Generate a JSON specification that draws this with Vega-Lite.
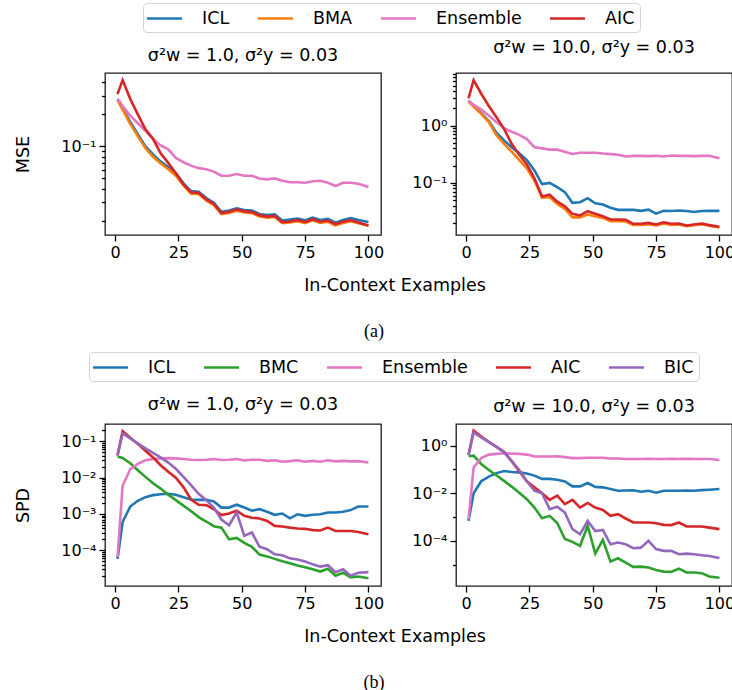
{
"$schema": "https://vega.github.io/schema/vega-lite/v6.json",
"background": "white",
"padding": {"left": 13, "top": 2, "right": 0, "bottom": 0},
"config": {
  "font": "DejaVu Sans",
  "view": {"stroke": "#1a1a1a", "strokeWidth": 1.3},
  "axis": {"grid": false, "domain": false, "labelFont": "DejaVu Sans", "labelFontSize": 16, "labelColor": "#000", "tickColor": "#000", "tickWidth": 1.3, "tickSize": 6, "labelPadding": 3, "titleFont": "DejaVu Sans", "titleFontSize": 17.5, "titleFontWeight": "normal", "titleColor": "#000", "labelFlush": false, "labelOverlap": false},
  "legend": {"direction": "horizontal", "title": null, "symbolType": "M-2,0H2", "symbolSize": 306.25, "symbolStrokeWidth": 2.6, "symbolOffset": 6, "labelOffset": 27, "labelFont": "DejaVu Sans", "labelFontSize": 17.5, "labelColor": "#000", "columnPadding": 22, "padding": 5, "strokeColor": "#d4d4d4", "cornerRadius": 4, "fillColor": "white", "labelLimit": 0}
},
"datasets": {
"a1": [
{"x":1,"m":"ICL","v":0.275},{"x":3,"m":"ICL","v":0.23},{"x":6,"m":"ICL","v":0.17},{"x":9,"m":"ICL","v":0.13},{"x":12,"m":"ICL","v":0.1},{"x":15,"m":"ICL","v":0.084},{"x":18,"m":"ICL","v":0.072},{"x":21,"m":"ICL","v":0.064},{"x":24,"m":"ICL","v":0.056},{"x":27,"m":"ICL","v":0.045},{"x":30,"m":"ICL","v":0.038},{"x":33,"m":"ICL","v":0.0375},{"x":36,"m":"ICL","v":0.0327},{"x":39,"m":"ICL","v":0.0296},{"x":42,"m":"ICL","v":0.0243},{"x":45,"m":"ICL","v":0.025},{"x":48,"m":"ICL","v":0.0262},{"x":51,"m":"ICL","v":0.0252},{"x":54,"m":"ICL","v":0.025},{"x":57,"m":"ICL","v":0.0232},{"x":60,"m":"ICL","v":0.0226},{"x":63,"m":"ICL","v":0.023},{"x":66,"m":"ICL","v":0.0201},{"x":69,"m":"ICL","v":0.0205},{"x":72,"m":"ICL","v":0.021},{"x":75,"m":"ICL","v":0.0202},{"x":78,"m":"ICL","v":0.0214},{"x":81,"m":"ICL","v":0.0203},{"x":84,"m":"ICL","v":0.0208},{"x":87,"m":"ICL","v":0.0192},{"x":90,"m":"ICL","v":0.0203},{"x":93,"m":"ICL","v":0.0212},{"x":96,"m":"ICL","v":0.0203},{"x":100,"m":"ICL","v":0.0195},
{"x":1,"m":"BMA","v":0.272},{"x":3,"m":"BMA","v":0.222},{"x":6,"m":"BMA","v":0.163},{"x":9,"m":"BMA","v":0.125},{"x":12,"m":"BMA","v":0.096},{"x":15,"m":"BMA","v":0.08},{"x":18,"m":"BMA","v":0.069},{"x":21,"m":"BMA","v":0.061},{"x":24,"m":"BMA","v":0.053},{"x":27,"m":"BMA","v":0.043},{"x":30,"m":"BMA","v":0.036},{"x":33,"m":"BMA","v":0.0357},{"x":36,"m":"BMA","v":0.031},{"x":39,"m":"BMA","v":0.028},{"x":42,"m":"BMA","v":0.0231},{"x":45,"m":"BMA","v":0.0237},{"x":48,"m":"BMA","v":0.0248},{"x":51,"m":"BMA","v":0.024},{"x":54,"m":"BMA","v":0.0236},{"x":57,"m":"BMA","v":0.022},{"x":60,"m":"BMA","v":0.0214},{"x":63,"m":"BMA","v":0.0217},{"x":66,"m":"BMA","v":0.019},{"x":69,"m":"BMA","v":0.0193},{"x":72,"m":"BMA","v":0.0198},{"x":75,"m":"BMA","v":0.019},{"x":78,"m":"BMA","v":0.0202},{"x":81,"m":"BMA","v":0.0191},{"x":84,"m":"BMA","v":0.0196},{"x":87,"m":"BMA","v":0.0181},{"x":90,"m":"BMA","v":0.0191},{"x":93,"m":"BMA","v":0.0198},{"x":96,"m":"BMA","v":0.019},{"x":100,"m":"BMA","v":0.018},
{"x":1,"m":"Ensemble","v":0.28},{"x":3,"m":"Ensemble","v":0.24},{"x":6,"m":"Ensemble","v":0.195},{"x":9,"m":"Ensemble","v":0.165},{"x":12,"m":"Ensemble","v":0.14},{"x":15,"m":"Ensemble","v":0.117},{"x":18,"m":"Ensemble","v":0.102},{"x":21,"m":"Ensemble","v":0.094},{"x":24,"m":"Ensemble","v":0.078},{"x":27,"m":"Ensemble","v":0.071},{"x":30,"m":"Ensemble","v":0.066},{"x":33,"m":"Ensemble","v":0.0625},{"x":36,"m":"Ensemble","v":0.061},{"x":39,"m":"Ensemble","v":0.058},{"x":42,"m":"Ensemble","v":0.053},{"x":45,"m":"Ensemble","v":0.053},{"x":48,"m":"Ensemble","v":0.055},{"x":51,"m":"Ensemble","v":0.053},{"x":54,"m":"Ensemble","v":0.053},{"x":57,"m":"Ensemble","v":0.05},{"x":60,"m":"Ensemble","v":0.049},{"x":63,"m":"Ensemble","v":0.05},{"x":66,"m":"Ensemble","v":0.0475},{"x":69,"m":"Ensemble","v":0.046},{"x":72,"m":"Ensemble","v":0.046},{"x":75,"m":"Ensemble","v":0.0455},{"x":78,"m":"Ensemble","v":0.047},{"x":81,"m":"Ensemble","v":0.0475},{"x":84,"m":"Ensemble","v":0.0455},{"x":87,"m":"Ensemble","v":0.0424},{"x":90,"m":"Ensemble","v":0.0455},{"x":93,"m":"Ensemble","v":0.0455},{"x":96,"m":"Ensemble","v":0.0445},{"x":100,"m":"Ensemble","v":0.0415},
{"x":1,"m":"AIC","v":0.31},{"x":3,"m":"AIC","v":0.42},{"x":6,"m":"AIC","v":0.28},{"x":9,"m":"AIC","v":0.2},{"x":12,"m":"AIC","v":0.145},{"x":15,"m":"AIC","v":0.118},{"x":18,"m":"AIC","v":0.086},{"x":21,"m":"AIC","v":0.07},{"x":24,"m":"AIC","v":0.056},{"x":27,"m":"AIC","v":0.044},{"x":30,"m":"AIC","v":0.037},{"x":33,"m":"AIC","v":0.0366},{"x":36,"m":"AIC","v":0.0318},{"x":39,"m":"AIC","v":0.0288},{"x":42,"m":"AIC","v":0.0236},{"x":45,"m":"AIC","v":0.0243},{"x":48,"m":"AIC","v":0.0256},{"x":51,"m":"AIC","v":0.0246},{"x":54,"m":"AIC","v":0.0242},{"x":57,"m":"AIC","v":0.0226},{"x":60,"m":"AIC","v":0.0219},{"x":63,"m":"AIC","v":0.0222},{"x":66,"m":"AIC","v":0.0194},{"x":69,"m":"AIC","v":0.0197},{"x":72,"m":"AIC","v":0.0203},{"x":75,"m":"AIC","v":0.0195},{"x":78,"m":"AIC","v":0.0207},{"x":81,"m":"AIC","v":0.0196},{"x":84,"m":"AIC","v":0.0201},{"x":87,"m":"AIC","v":0.0186},{"x":90,"m":"AIC","v":0.0196},{"x":93,"m":"AIC","v":0.0203},{"x":96,"m":"AIC","v":0.0193},{"x":100,"m":"AIC","v":0.0181}
],
"a2": [
{"x":1,"m":"ICL","v":2.73},{"x":3,"m":"ICL","v":2.2},{"x":6,"m":"ICL","v":1.65},{"x":9,"m":"ICL","v":1.2},{"x":12,"m":"ICL","v":0.75},{"x":15,"m":"ICL","v":0.55},{"x":18,"m":"ICL","v":0.42},{"x":21,"m":"ICL","v":0.33},{"x":24,"m":"ICL","v":0.25},{"x":27,"m":"ICL","v":0.165},{"x":30,"m":"ICL","v":0.095},{"x":33,"m":"ICL","v":0.1},{"x":36,"m":"ICL","v":0.084},{"x":39,"m":"ICL","v":0.069},{"x":42,"m":"ICL","v":0.0448},{"x":45,"m":"ICL","v":0.046},{"x":48,"m":"ICL","v":0.054},{"x":51,"m":"ICL","v":0.044},{"x":54,"m":"ICL","v":0.042},{"x":57,"m":"ICL","v":0.0367},{"x":60,"m":"ICL","v":0.0338},{"x":63,"m":"ICL","v":0.0338},{"x":66,"m":"ICL","v":0.0338},{"x":69,"m":"ICL","v":0.0325},{"x":72,"m":"ICL","v":0.034},{"x":75,"m":"ICL","v":0.029},{"x":78,"m":"ICL","v":0.0325},{"x":81,"m":"ICL","v":0.0322},{"x":84,"m":"ICL","v":0.033},{"x":87,"m":"ICL","v":0.0322},{"x":90,"m":"ICL","v":0.031},{"x":93,"m":"ICL","v":0.0322},{"x":96,"m":"ICL","v":0.0325},{"x":100,"m":"ICL","v":0.0325},
{"x":1,"m":"BMA","v":2.62},{"x":3,"m":"BMA","v":2.15},{"x":6,"m":"BMA","v":1.6},{"x":9,"m":"BMA","v":1.15},{"x":12,"m":"BMA","v":0.68},{"x":15,"m":"BMA","v":0.48},{"x":18,"m":"BMA","v":0.35},{"x":21,"m":"BMA","v":0.25},{"x":24,"m":"BMA","v":0.18},{"x":27,"m":"BMA","v":0.11},{"x":30,"m":"BMA","v":0.055},{"x":33,"m":"BMA","v":0.056},{"x":36,"m":"BMA","v":0.043},{"x":39,"m":"BMA","v":0.035},{"x":42,"m":"BMA","v":0.025},{"x":45,"m":"BMA","v":0.025},{"x":48,"m":"BMA","v":0.028},{"x":51,"m":"BMA","v":0.026},{"x":54,"m":"BMA","v":0.0245},{"x":57,"m":"BMA","v":0.0215},{"x":60,"m":"BMA","v":0.0215},{"x":63,"m":"BMA","v":0.0212},{"x":66,"m":"BMA","v":0.0185},{"x":69,"m":"BMA","v":0.0185},{"x":72,"m":"BMA","v":0.019},{"x":75,"m":"BMA","v":0.018},{"x":78,"m":"BMA","v":0.0195},{"x":81,"m":"BMA","v":0.0185},{"x":84,"m":"BMA","v":0.0187},{"x":87,"m":"BMA","v":0.0176},{"x":90,"m":"BMA","v":0.0183},{"x":93,"m":"BMA","v":0.019},{"x":96,"m":"BMA","v":0.0178},{"x":100,"m":"BMA","v":0.0166},
{"x":1,"m":"Ensemble","v":2.73},{"x":3,"m":"Ensemble","v":2.3},{"x":6,"m":"Ensemble","v":1.9},{"x":9,"m":"Ensemble","v":1.5},{"x":12,"m":"Ensemble","v":1.15},{"x":15,"m":"Ensemble","v":0.9},{"x":18,"m":"Ensemble","v":0.78},{"x":21,"m":"Ensemble","v":0.69},{"x":24,"m":"Ensemble","v":0.58},{"x":27,"m":"Ensemble","v":0.42},{"x":30,"m":"Ensemble","v":0.4},{"x":33,"m":"Ensemble","v":0.38},{"x":36,"m":"Ensemble","v":0.38},{"x":39,"m":"Ensemble","v":0.35},{"x":42,"m":"Ensemble","v":0.32},{"x":45,"m":"Ensemble","v":0.335},{"x":48,"m":"Ensemble","v":0.335},{"x":51,"m":"Ensemble","v":0.335},{"x":54,"m":"Ensemble","v":0.325},{"x":57,"m":"Ensemble","v":0.318},{"x":60,"m":"Ensemble","v":0.31},{"x":63,"m":"Ensemble","v":0.288},{"x":66,"m":"Ensemble","v":0.296},{"x":69,"m":"Ensemble","v":0.296},{"x":72,"m":"Ensemble","v":0.293},{"x":75,"m":"Ensemble","v":0.298},{"x":78,"m":"Ensemble","v":0.288},{"x":81,"m":"Ensemble","v":0.3},{"x":84,"m":"Ensemble","v":0.296},{"x":87,"m":"Ensemble","v":0.296},{"x":90,"m":"Ensemble","v":0.293},{"x":93,"m":"Ensemble","v":0.296},{"x":96,"m":"Ensemble","v":0.298},{"x":100,"m":"Ensemble","v":0.27},
{"x":1,"m":"AIC","v":3.0},{"x":3,"m":"AIC","v":6.2},{"x":6,"m":"AIC","v":3.6},{"x":9,"m":"AIC","v":2.2},{"x":12,"m":"AIC","v":1.4},{"x":15,"m":"AIC","v":0.875},{"x":18,"m":"AIC","v":0.48},{"x":21,"m":"AIC","v":0.31},{"x":24,"m":"AIC","v":0.21},{"x":27,"m":"AIC","v":0.12},{"x":30,"m":"AIC","v":0.058},{"x":33,"m":"AIC","v":0.062},{"x":36,"m":"AIC","v":0.047},{"x":39,"m":"AIC","v":0.039},{"x":42,"m":"AIC","v":0.0288},{"x":45,"m":"AIC","v":0.027},{"x":48,"m":"AIC","v":0.032},{"x":51,"m":"AIC","v":0.0288},{"x":54,"m":"AIC","v":0.0262},{"x":57,"m":"AIC","v":0.023},{"x":60,"m":"AIC","v":0.023},{"x":63,"m":"AIC","v":0.0226},{"x":66,"m":"AIC","v":0.0193},{"x":69,"m":"AIC","v":0.0193},{"x":72,"m":"AIC","v":0.02},{"x":75,"m":"AIC","v":0.0188},{"x":78,"m":"AIC","v":0.0205},{"x":81,"m":"AIC","v":0.0193},{"x":84,"m":"AIC","v":0.0195},{"x":87,"m":"AIC","v":0.018},{"x":90,"m":"AIC","v":0.0188},{"x":93,"m":"AIC","v":0.0195},{"x":96,"m":"AIC","v":0.0183},{"x":100,"m":"AIC","v":0.0171}
],
"b1": [
{"x":1,"m":"ICL","v":5.8e-5},{"x":3,"m":"ICL","v":6e-4},{"x":6,"m":"ICL","v":1.6e-3},{"x":9,"m":"ICL","v":2.3e-3},{"x":12,"m":"ICL","v":2.9e-3},{"x":15,"m":"ICL","v":3.3e-3},{"x":18,"m":"ICL","v":3.5e-3},{"x":21,"m":"ICL","v":3.6e-3},{"x":24,"m":"ICL","v":3.4e-3},{"x":27,"m":"ICL","v":2.9e-3},{"x":30,"m":"ICL","v":2.5e-3},{"x":33,"m":"ICL","v":2.45e-3},{"x":36,"m":"ICL","v":2.45e-3},{"x":39,"m":"ICL","v":2.2e-3},{"x":42,"m":"ICL","v":1.5e-3},{"x":45,"m":"ICL","v":1.5e-3},{"x":48,"m":"ICL","v":1.8e-3},{"x":51,"m":"ICL","v":1.5e-3},{"x":54,"m":"ICL","v":1.23e-3},{"x":57,"m":"ICL","v":1.36e-3},{"x":60,"m":"ICL","v":1.15e-3},{"x":63,"m":"ICL","v":9.5e-4},{"x":66,"m":"ICL","v":1.03e-3},{"x":69,"m":"ICL","v":7.6e-4},{"x":72,"m":"ICL","v":9.8e-4},{"x":75,"m":"ICL","v":8.9e-4},{"x":78,"m":"ICL","v":9.5e-4},{"x":81,"m":"ICL","v":9.8e-4},{"x":84,"m":"ICL","v":1.1e-3},{"x":87,"m":"ICL","v":1.1e-3},{"x":90,"m":"ICL","v":1.15e-3},{"x":93,"m":"ICL","v":1.28e-3},{"x":96,"m":"ICL","v":1.6e-3},{"x":100,"m":"ICL","v":1.6e-3},
{"x":1,"m":"BMC","v":3.8e-2},{"x":3,"m":"BMC","v":3.5e-2},{"x":6,"m":"BMC","v":2.5e-2},{"x":9,"m":"BMC","v":1.6e-2},{"x":12,"m":"BMC","v":1.05e-2},{"x":15,"m":"BMC","v":7e-3},{"x":18,"m":"BMC","v":5e-3},{"x":21,"m":"BMC","v":3.4e-3},{"x":24,"m":"BMC","v":2.4e-3},{"x":27,"m":"BMC","v":1.7e-3},{"x":30,"m":"BMC","v":1.2e-3},{"x":33,"m":"BMC","v":8.2e-4},{"x":36,"m":"BMC","v":6.2e-4},{"x":39,"m":"BMC","v":4.6e-4},{"x":42,"m":"BMC","v":4.2e-4},{"x":45,"m":"BMC","v":2.0e-4},{"x":48,"m":"BMC","v":2.2e-4},{"x":51,"m":"BMC","v":1.6e-4},{"x":54,"m":"BMC","v":1.25e-4},{"x":57,"m":"BMC","v":7.6e-5},{"x":60,"m":"BMC","v":6.8e-5},{"x":63,"m":"BMC","v":5.8e-5},{"x":66,"m":"BMC","v":5.0e-5},{"x":69,"m":"BMC","v":4.4e-5},{"x":72,"m":"BMC","v":3.8e-5},{"x":75,"m":"BMC","v":3.4e-5},{"x":78,"m":"BMC","v":3.0e-5},{"x":81,"m":"BMC","v":2.6e-5},{"x":84,"m":"BMC","v":3.1e-5},{"x":87,"m":"BMC","v":2.0e-5},{"x":90,"m":"BMC","v":2.4e-5},{"x":93,"m":"BMC","v":1.8e-5},{"x":96,"m":"BMC","v":1.9e-5},{"x":100,"m":"BMC","v":1.7e-5},
{"x":1,"m":"Ensemble","v":6.5e-5},{"x":3,"m":"Ensemble","v":6e-3},{"x":6,"m":"Ensemble","v":1.7e-2},{"x":9,"m":"Ensemble","v":2.4e-2},{"x":12,"m":"Ensemble","v":3.0e-2},{"x":15,"m":"Ensemble","v":3.25e-2},{"x":18,"m":"Ensemble","v":3.4e-2},{"x":21,"m":"Ensemble","v":3.45e-2},{"x":24,"m":"Ensemble","v":3.4e-2},{"x":27,"m":"Ensemble","v":3.25e-2},{"x":30,"m":"Ensemble","v":3.1e-2},{"x":33,"m":"Ensemble","v":3.05e-2},{"x":36,"m":"Ensemble","v":3.1e-2},{"x":39,"m":"Ensemble","v":3.25e-2},{"x":42,"m":"Ensemble","v":3.05e-2},{"x":45,"m":"Ensemble","v":3.1e-2},{"x":48,"m":"Ensemble","v":3.25e-2},{"x":51,"m":"Ensemble","v":3.0e-2},{"x":54,"m":"Ensemble","v":3.1e-2},{"x":57,"m":"Ensemble","v":3.1e-2},{"x":60,"m":"Ensemble","v":2.9e-2},{"x":63,"m":"Ensemble","v":3.0e-2},{"x":66,"m":"Ensemble","v":2.75e-2},{"x":69,"m":"Ensemble","v":2.85e-2},{"x":72,"m":"Ensemble","v":3.0e-2},{"x":75,"m":"Ensemble","v":2.75e-2},{"x":78,"m":"Ensemble","v":2.9e-2},{"x":81,"m":"Ensemble","v":2.75e-2},{"x":84,"m":"Ensemble","v":3.0e-2},{"x":87,"m":"Ensemble","v":2.8e-2},{"x":90,"m":"Ensemble","v":2.9e-2},{"x":93,"m":"Ensemble","v":2.8e-2},{"x":96,"m":"Ensemble","v":2.85e-2},{"x":100,"m":"Ensemble","v":2.6e-2},
{"x":1,"m":"AIC","v":4.2e-2},{"x":3,"m":"AIC","v":0.19},{"x":6,"m":"AIC","v":0.125},{"x":9,"m":"AIC","v":0.085},{"x":12,"m":"AIC","v":0.055},{"x":15,"m":"AIC","v":3.6e-2},{"x":18,"m":"AIC","v":2.2e-2},{"x":21,"m":"AIC","v":1.45e-2},{"x":24,"m":"AIC","v":1.0e-2},{"x":27,"m":"AIC","v":5.5e-3},{"x":30,"m":"AIC","v":2.5e-3},{"x":33,"m":"AIC","v":1.8e-3},{"x":36,"m":"AIC","v":1.75e-3},{"x":39,"m":"AIC","v":1.35e-3},{"x":42,"m":"AIC","v":9.3e-4},{"x":45,"m":"AIC","v":1.03e-3},{"x":48,"m":"AIC","v":1.23e-3},{"x":51,"m":"AIC","v":8.9e-4},{"x":54,"m":"AIC","v":7.9e-4},{"x":57,"m":"AIC","v":7.5e-4},{"x":60,"m":"AIC","v":6.4e-4},{"x":63,"m":"AIC","v":4.7e-4},{"x":66,"m":"AIC","v":4.5e-4},{"x":69,"m":"AIC","v":4.2e-4},{"x":72,"m":"AIC","v":4.0e-4},{"x":75,"m":"AIC","v":3.9e-4},{"x":78,"m":"AIC","v":3.6e-4},{"x":81,"m":"AIC","v":3.5e-4},{"x":84,"m":"AIC","v":4.2e-4},{"x":87,"m":"AIC","v":3.4e-4},{"x":90,"m":"AIC","v":3.4e-4},{"x":93,"m":"AIC","v":3.4e-4},{"x":96,"m":"AIC","v":3.2e-4},{"x":100,"m":"AIC","v":2.75e-4},
{"x":1,"m":"BIC","v":4.0e-2},{"x":3,"m":"BIC","v":0.165},{"x":6,"m":"BIC","v":0.12},{"x":9,"m":"BIC","v":8.8e-2},{"x":12,"m":"BIC","v":6.4e-2},{"x":15,"m":"BIC","v":4.8e-2},{"x":18,"m":"BIC","v":3.6e-2},{"x":21,"m":"BIC","v":2.6e-2},{"x":24,"m":"BIC","v":1.75e-2},{"x":27,"m":"BIC","v":1.05e-2},{"x":30,"m":"BIC","v":6.2e-3},{"x":33,"m":"BIC","v":3.6e-3},{"x":36,"m":"BIC","v":2.4e-3},{"x":39,"m":"BIC","v":1.5e-3},{"x":42,"m":"BIC","v":7e-4},{"x":45,"m":"BIC","v":4.9e-4},{"x":48,"m":"BIC","v":1.1e-3},{"x":51,"m":"BIC","v":2.5e-4},{"x":54,"m":"BIC","v":3.1e-4},{"x":57,"m":"BIC","v":1.26e-4},{"x":60,"m":"BIC","v":1.07e-4},{"x":63,"m":"BIC","v":7.8e-5},{"x":66,"m":"BIC","v":7.3e-5},{"x":69,"m":"BIC","v":6.0e-5},{"x":72,"m":"BIC","v":5.6e-5},{"x":75,"m":"BIC","v":4.9e-5},{"x":78,"m":"BIC","v":4.1e-5},{"x":81,"m":"BIC","v":3.55e-5},{"x":84,"m":"BIC","v":3.9e-5},{"x":87,"m":"BIC","v":2.5e-5},{"x":90,"m":"BIC","v":3.0e-5},{"x":93,"m":"BIC","v":2.0e-5},{"x":96,"m":"BIC","v":2.4e-5},{"x":100,"m":"BIC","v":2.5e-5}
],
"b2": [
{"x":1,"m":"ICL","v":6.9e-4},{"x":3,"m":"ICL","v":1.0e-2},{"x":6,"m":"ICL","v":3.2e-2},{"x":9,"m":"ICL","v":5.0e-2},{"x":12,"m":"ICL","v":7.0e-2},{"x":15,"m":"ICL","v":8.6e-2},{"x":18,"m":"ICL","v":7.8e-2},{"x":21,"m":"ICL","v":7.5e-2},{"x":24,"m":"ICL","v":6.8e-2},{"x":27,"m":"ICL","v":5.5e-2},{"x":30,"m":"ICL","v":4.0e-2},{"x":33,"m":"ICL","v":4.0e-2},{"x":36,"m":"ICL","v":3.7e-2},{"x":39,"m":"ICL","v":3.15e-2},{"x":42,"m":"ICL","v":1.94e-2},{"x":45,"m":"ICL","v":1.94e-2},{"x":48,"m":"ICL","v":2.7e-2},{"x":51,"m":"ICL","v":1.85e-2},{"x":54,"m":"ICL","v":1.77e-2},{"x":57,"m":"ICL","v":1.5e-2},{"x":60,"m":"ICL","v":1.27e-2},{"x":63,"m":"ICL","v":1.3e-2},{"x":66,"m":"ICL","v":1.33e-2},{"x":69,"m":"ICL","v":1.15e-2},{"x":72,"m":"ICL","v":1.27e-2},{"x":75,"m":"ICL","v":1.05e-2},{"x":78,"m":"ICL","v":1.27e-2},{"x":81,"m":"ICL","v":1.27e-2},{"x":84,"m":"ICL","v":1.27e-2},{"x":87,"m":"ICL","v":1.3e-2},{"x":90,"m":"ICL","v":1.27e-2},{"x":93,"m":"ICL","v":1.35e-2},{"x":96,"m":"ICL","v":1.4e-2},{"x":100,"m":"ICL","v":1.5e-2},
{"x":1,"m":"BMC","v":0.355},{"x":3,"m":"BMC","v":0.38},{"x":6,"m":"BMC","v":0.17},{"x":9,"m":"BMC","v":0.095},{"x":12,"m":"BMC","v":0.057},{"x":15,"m":"BMC","v":0.033},{"x":18,"m":"BMC","v":0.019},{"x":21,"m":"BMC","v":0.0105},{"x":24,"m":"BMC","v":5.6e-3},{"x":27,"m":"BMC","v":2.5e-3},{"x":30,"m":"BMC","v":9e-4},{"x":33,"m":"BMC","v":1.12e-3},{"x":36,"m":"BMC","v":5.6e-4},{"x":39,"m":"BMC","v":1.2e-4},{"x":42,"m":"BMC","v":9.1e-5},{"x":45,"m":"BMC","v":6.2e-5},{"x":48,"m":"BMC","v":4.3e-4},{"x":51,"m":"BMC","v":2.9e-5},{"x":54,"m":"BMC","v":1.1e-4},{"x":57,"m":"BMC","v":1.35e-5},{"x":60,"m":"BMC","v":1.86e-5},{"x":63,"m":"BMC","v":1.23e-5},{"x":66,"m":"BMC","v":8.1e-6},{"x":69,"m":"BMC","v":8.3e-6},{"x":72,"m":"BMC","v":7.6e-6},{"x":75,"m":"BMC","v":6.0e-6},{"x":78,"m":"BMC","v":5.1e-6},{"x":81,"m":"BMC","v":5.0e-6},{"x":84,"m":"BMC","v":6.8e-6},{"x":87,"m":"BMC","v":4.7e-6},{"x":90,"m":"BMC","v":4.7e-6},{"x":93,"m":"BMC","v":4.4e-6},{"x":96,"m":"BMC","v":3.2e-6},{"x":100,"m":"BMC","v":2.8e-6},
{"x":1,"m":"Ensemble","v":8.1e-4},{"x":3,"m":"Ensemble","v":0.12},{"x":6,"m":"Ensemble","v":0.3},{"x":9,"m":"Ensemble","v":0.42},{"x":12,"m":"Ensemble","v":0.45},{"x":15,"m":"Ensemble","v":0.475},{"x":18,"m":"Ensemble","v":0.46},{"x":21,"m":"Ensemble","v":0.45},{"x":24,"m":"Ensemble","v":0.42},{"x":27,"m":"Ensemble","v":0.355},{"x":30,"m":"Ensemble","v":0.35},{"x":33,"m":"Ensemble","v":0.35},{"x":36,"m":"Ensemble","v":0.355},{"x":39,"m":"Ensemble","v":0.33},{"x":42,"m":"Ensemble","v":0.3},{"x":45,"m":"Ensemble","v":0.3},{"x":48,"m":"Ensemble","v":0.31},{"x":51,"m":"Ensemble","v":0.31},{"x":54,"m":"Ensemble","v":0.31},{"x":57,"m":"Ensemble","v":0.29},{"x":60,"m":"Ensemble","v":0.29},{"x":63,"m":"Ensemble","v":0.275},{"x":66,"m":"Ensemble","v":0.275},{"x":69,"m":"Ensemble","v":0.275},{"x":72,"m":"Ensemble","v":0.28},{"x":75,"m":"Ensemble","v":0.275},{"x":78,"m":"Ensemble","v":0.275},{"x":81,"m":"Ensemble","v":0.28},{"x":84,"m":"Ensemble","v":0.275},{"x":87,"m":"Ensemble","v":0.28},{"x":90,"m":"Ensemble","v":0.275},{"x":93,"m":"Ensemble","v":0.275},{"x":96,"m":"Ensemble","v":0.275},{"x":100,"m":"Ensemble","v":0.25},
{"x":1,"m":"AIC","v":0.4},{"x":3,"m":"AIC","v":4.3},{"x":6,"m":"AIC","v":2.4},{"x":9,"m":"AIC","v":1.45},{"x":12,"m":"AIC","v":0.9},{"x":15,"m":"AIC","v":0.55},{"x":18,"m":"AIC","v":0.22},{"x":21,"m":"AIC","v":0.085},{"x":24,"m":"AIC","v":3.2e-2},{"x":27,"m":"AIC","v":1.8e-2},{"x":30,"m":"AIC","v":1.0e-2},{"x":33,"m":"AIC","v":5.3e-3},{"x":36,"m":"AIC","v":7.9e-3},{"x":39,"m":"AIC","v":3.5e-3},{"x":42,"m":"AIC","v":5.3e-3},{"x":45,"m":"AIC","v":2.5e-3},{"x":48,"m":"AIC","v":3.9e-3},{"x":51,"m":"AIC","v":2.5e-3},{"x":54,"m":"AIC","v":2.0e-3},{"x":57,"m":"AIC","v":1.12e-3},{"x":60,"m":"AIC","v":1.32e-3},{"x":63,"m":"AIC","v":8.7e-4},{"x":66,"m":"AIC","v":5.9e-4},{"x":69,"m":"AIC","v":5.9e-4},{"x":72,"m":"AIC","v":5.9e-4},{"x":75,"m":"AIC","v":5.5e-4},{"x":78,"m":"AIC","v":4.7e-4},{"x":81,"m":"AIC","v":4.6e-4},{"x":84,"m":"AIC","v":5.9e-4},{"x":87,"m":"AIC","v":4.0e-4},{"x":90,"m":"AIC","v":4.0e-4},{"x":93,"m":"AIC","v":4.0e-4},{"x":96,"m":"AIC","v":3.6e-4},{"x":100,"m":"AIC","v":3.1e-4},
{"x":1,"m":"BIC","v":0.4},{"x":3,"m":"BIC","v":3.6},{"x":6,"m":"BIC","v":2.2},{"x":9,"m":"BIC","v":1.4},{"x":12,"m":"BIC","v":0.88},{"x":15,"m":"BIC","v":0.52},{"x":18,"m":"BIC","v":0.23},{"x":21,"m":"BIC","v":0.095},{"x":24,"m":"BIC","v":3.2e-2},{"x":27,"m":"BIC","v":1.3e-2},{"x":30,"m":"BIC","v":1.0e-2},{"x":33,"m":"BIC","v":2.15e-3},{"x":36,"m":"BIC","v":2.7e-3},{"x":39,"m":"BIC","v":1.55e-3},{"x":42,"m":"BIC","v":3.1e-4},{"x":45,"m":"BIC","v":1.9e-4},{"x":48,"m":"BIC","v":6.9e-4},{"x":51,"m":"BIC","v":2.6e-4},{"x":54,"m":"BIC","v":2.9e-4},{"x":57,"m":"BIC","v":7.2e-5},{"x":60,"m":"BIC","v":8.5e-5},{"x":63,"m":"BIC","v":7.2e-5},{"x":66,"m":"BIC","v":4.9e-5},{"x":69,"m":"BIC","v":5.2e-5},{"x":72,"m":"BIC","v":1.0e-4},{"x":75,"m":"BIC","v":4.5e-5},{"x":78,"m":"BIC","v":3.8e-5},{"x":81,"m":"BIC","v":3.8e-5},{"x":84,"m":"BIC","v":2.75e-5},{"x":87,"m":"BIC","v":2.9e-5},{"x":90,"m":"BIC","v":2.75e-5},{"x":93,"m":"BIC","v":2.5e-5},{"x":96,"m":"BIC","v":2.3e-5},{"x":100,"m":"BIC","v":1.9e-5}
]
},
"columns": 2,
"bounds": "flush",
"spacing": {"row": 189, "column": 75},
"resolve": {"scale": {"x": "independent", "y": "independent", "color": "shared", "stroke": "shared"}, "axis": {"x": "independent", "y": "independent"}},
"concat": [
{
 "width": 276, "height": 162,
 "title": {"text": "σ²w = 1.0, σ²y = 0.03", "font": "DejaVu Sans", "fontSize": 17.5, "fontWeight": "normal", "color": "#000", "baseline": "alphabetic", "offset": 9, "dy": 14, "anchor": "middle"},
 "data": {"name": "a1"},
 "mark": {"type": "line", "strokeWidth": 2.6, "clip": true},
 "encoding": {
  "x": {"field": "x", "type": "quantitative", "scale": {"domain": [-3.95, 104.95], "nice": false, "zero": false}, "axis": {"values": [0, 25, 50, 75, 100], "title": "In-Context Examples", "titleX": 289.5, "titleY": 55, "titleBaseline": "alphabetic"}},
  "y": {"field": "v", "type": "quantitative", "scale": {"type": "log", "domain": [0.0147, 0.49], "nice": false}, "axis": {"title": "MSE", "titleX": -77, "titleBaseline": "alphabetic", "values": [0.02, 0.03, 0.04, 0.05, 0.06, 0.07, 0.08, 0.09, 0.1, 0.2, 0.3, 0.4], "labelExpr": "datum.value == 0.1 ? '10⁻¹' : ''", "tickSize": {"condition": {"test": "datum.value == 0.1", "value": 6}, "value": 3.5}}},
  "color": {"field": "m", "type": "nominal", "scale": {"domain": ["ICL", "BMA", "Ensemble", "AIC"], "range": ["#1f77b4", "#ff7f0e", "#e377c2", "#d62728"]}, "legend": {"orient": "none", "legendX": 38, "legendY": -70}}
 }
},
{
 "width": 276, "height": 162,
 "title": {"text": "σ²w = 10.0, σ²y = 0.03", "font": "DejaVu Sans", "fontSize": 17.5, "fontWeight": "normal", "color": "#000", "baseline": "alphabetic", "offset": 9, "dy": 14, "anchor": "middle"},
 "data": {"name": "a2"},
 "mark": {"type": "line", "strokeWidth": 2.6, "clip": true},
 "encoding": {
  "x": {"field": "x", "type": "quantitative", "scale": {"domain": [-3.95, 104.95], "nice": false, "zero": false}, "axis": {"values": [0, 25, 50, 75, 100], "title": "(a)", "titleX": -82.5, "titleY": 101, "titleBaseline": "alphabetic", "titleFont": "Liberation Serif", "titleFontSize": 18}},
  "y": {"field": "v", "type": "quantitative", "scale": {"type": "log", "domain": [0.0123, 8.28], "nice": false}, "axis": {"title": null, "values": [0.02, 0.03, 0.04, 0.05, 0.06, 0.07, 0.08, 0.09, 0.1, 0.2, 0.3, 0.4, 0.5, 0.6, 0.7, 0.8, 0.9, 1, 2, 3, 4, 5, 6, 7, 8], "labelExpr": "datum.value == 1 ? '10⁰' : datum.value == 0.1 ? '10⁻¹' : ''", "tickSize": {"condition": {"test": "datum.value == 0.1 || datum.value == 1", "value": 6}, "value": 3.5}}},
  "color": {"field": "m", "type": "nominal", "scale": {"domain": ["ICL", "BMA", "Ensemble", "AIC"], "range": ["#1f77b4", "#ff7f0e", "#e377c2", "#d62728"]}, "legend": {"orient": "none", "legendX": 38, "legendY": -70}}
 }
},
{
 "width": 276, "height": 162,
 "title": {"text": "σ²w = 1.0, σ²y = 0.03", "font": "DejaVu Sans", "fontSize": 17.5, "fontWeight": "normal", "color": "#000", "baseline": "alphabetic", "offset": 9, "dy": 14, "anchor": "middle"},
 "data": {"name": "b1"},
 "mark": {"type": "line", "strokeWidth": 2.6, "clip": true},
 "encoding": {
  "x": {"field": "x", "type": "quantitative", "scale": {"domain": [-3.95, 104.95], "nice": false, "zero": false}, "axis": {"values": [0, 25, 50, 75, 100], "title": "In-Context Examples", "titleX": 289.5, "titleY": 55, "titleBaseline": "alphabetic"}},
  "y": {"field": "v", "type": "quantitative", "scale": {"type": "log", "domain": [1.04e-5, 0.3], "nice": false}, "axis": {"title": "SPD", "titleX": -77, "titleBaseline": "alphabetic", "values": [2e-5, 3e-5, 4e-5, 5e-5, 6e-5, 7e-5, 8e-5, 9e-5, 0.0001, 0.0002, 0.0003, 0.0004, 0.0005, 0.0006, 0.0007, 0.0008, 0.0009, 0.001, 0.002, 0.003, 0.004, 0.005, 0.006, 0.007, 0.008, 0.009, 0.01, 0.02, 0.03, 0.04, 0.05, 0.06, 0.07, 0.08, 0.09, 0.1, 0.2], "labelExpr": "datum.value == 0.1 ? '10⁻¹' : datum.value == 0.01 ? '10⁻²' : datum.value == 0.001 ? '10⁻³' : datum.value == 0.0001 ? '10⁻⁴' : ''", "tickSize": {"condition": {"test": "datum.value == 0.1 || datum.value == 0.01 || datum.value == 0.001 || datum.value == 0.0001", "value": 6}, "value": 3.5}}},
  "stroke": {"field": "m", "type": "nominal", "scale": {"domain": ["ICL", "BMC", "Ensemble", "AIC", "BIC"], "range": ["#1f77b4", "#2ca02c", "#e377c2", "#d62728", "#9467bd"]}, "legend": {"orient": "none", "legendX": -16, "legendY": 279}}
 }
},
{
 "width": 276, "height": 162,
 "title": {"text": "σ²w = 10.0, σ²y = 0.03", "font": "DejaVu Sans", "fontSize": 17.5, "fontWeight": "normal", "color": "#000", "baseline": "alphabetic", "offset": 9, "dy": 14, "anchor": "middle"},
 "data": {"name": "b2"},
 "mark": {"type": "line", "strokeWidth": 2.6, "clip": true},
 "encoding": {
  "x": {"field": "x", "type": "quantitative", "scale": {"domain": [-3.95, 104.95], "nice": false, "zero": false}, "axis": {"values": [0, 25, 50, 75, 100], "title": "(b)", "titleX": -82.5, "titleY": 101, "titleBaseline": "alphabetic", "titleFont": "Liberation Serif", "titleFontSize": 18}},
  "y": {"field": "v", "type": "quantitative", "scale": {"type": "log", "domain": [1.27e-6, 8.1], "nice": false}, "axis": {"title": null, "values": [1e-5, 0.0001, 0.001, 0.01, 0.1, 1], "labelExpr": "datum.value == 1 ? '10⁰' : datum.value == 0.01 ? '10⁻²' : datum.value == 0.0001 ? '10⁻⁴' : ''", "tickSize": {"condition": {"test": "datum.value == 1 || datum.value == 0.01 || datum.value == 0.0001", "value": 6}, "value": 3.5}}},
  "stroke": {"field": "m", "type": "nominal", "scale": {"domain": ["ICL", "BMC", "Ensemble", "AIC", "BIC"], "range": ["#1f77b4", "#2ca02c", "#e377c2", "#d62728", "#9467bd"]}, "legend": {"orient": "none", "legendX": -16, "legendY": 279}}
 }
}
]
}
